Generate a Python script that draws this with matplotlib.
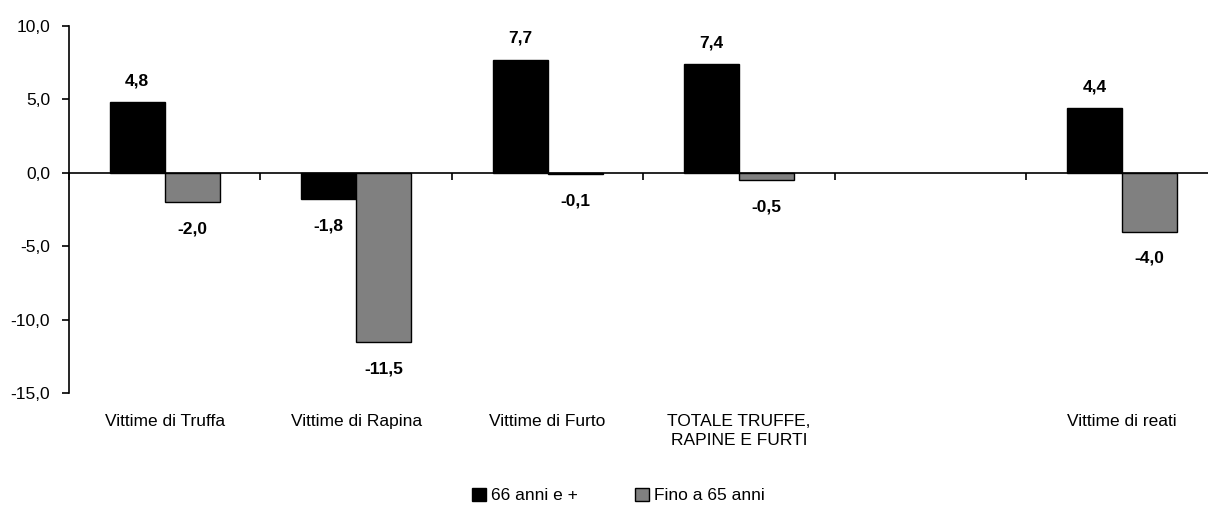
import numpy as np
import matplotlib.pyplot as plt
from matplotlib.patches import Patch

plt.rcParams['font.family'] = ['Liberation Sans', 'DejaVu Sans']

# Categories (the fifth one is empty in the original chart)
categories = ['Vittime di Truffa', 'Vittime di Rapina', 'Vittime di Furto',
              'TOTALE TRUFFE,\nRAPINE E FURTI', '', 'Vittime di reati']
anziani = [4.8, -1.8, 7.7, 7.4, np.nan, 4.4]      # 66 anni e +
giovani = [-2.0, -11.5, -0.1, -0.5, np.nan, -4.0]  # Fino a 65 anni

fig = plt.figure(figsize=(12.08, 5.16), dpi=100)
ax = fig.add_axes([0.0571, 0.2384, 0.951, 0.7112])

x = np.arange(len(categories))
w = 0.2865
b1 = ax.bar(x - w/2, anziani, w, color='black', edgecolor='black', linewidth=1)
b2 = ax.bar(x + w/2, giovani, w, color='#808080', edgecolor='black', linewidth=1)

#Data labels
for bars, vals in [(b1, anziani), (b2, giovani)]:
    for bar, v in zip(bars, vals):
        if np.isnan(v):
            continue
        cx = bar.get_x() + bar.get_width()/2
        off = 10 if v >= 0 else -14
        ax.annotate(f'{v:.1f}'.replace('.', ','), (cx, v), xytext=(0, off),
                    textcoords='offset points', ha='center',
                    va='bottom' if v >= 0 else 'top',
                    fontsize=12.5, fontweight='bold')

ax.set_ylim(-15, 10)
ax.set_yticks([-15, -10, -5, 0, 5, 10])
ax.set_yticklabels([f'{t:.1f}'.replace('.', ',') for t in [-15, -10, -5, 0, 5, 10]], fontsize=12.5)
ax.set_xlim(-0.5, len(categories) - 0.5)

# x axis along zero with ticks between categories
ax.spines['top'].set_visible(False)
ax.spines['right'].set_visible(False)
ax.spines['bottom'].set_position(('data', 0))
ax.spines['left'].set_linewidth(1.2)
ax.spines['bottom'].set_linewidth(1.2)
ax.set_xticks(np.arange(len(categories) + 1) - 0.5)
ax.set_xticklabels([])
ax.tick_params(axis='x', length=5, width=1.2, direction='out')
ax.tick_params(axis='y', length=5, width=1.2, direction='out', pad=8.5)

for i, c in enumerate(categories):
    ax.text(i, -16.4, c, ha='center', va='top', fontsize=12.5, linespacing=1.4)

handles = [Patch(facecolor='black', edgecolor='black', label='66 anni e +'),
           Patch(facecolor='#808080', edgecolor='black', label='Fino a 65 anni')]
fig.legend(handles=handles, loc='center', bbox_to_anchor=(0.512, 0.04), ncol=2,
           frameon=False, fontsize=12.5, handlelength=0.8, handleheight=0.8,
           handletextpad=0.3, columnspacing=3.25)

fig.savefig('out.png', dpi=100)
